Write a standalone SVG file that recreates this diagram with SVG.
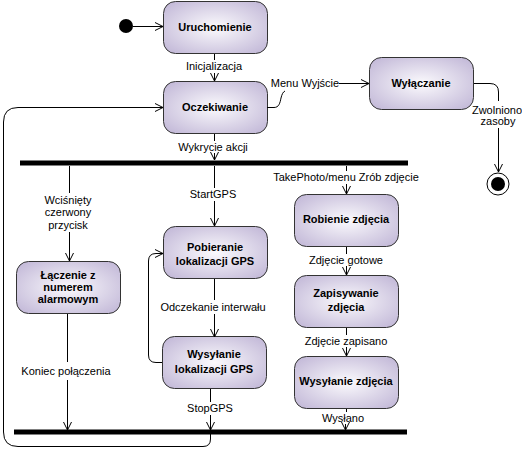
<svg xmlns="http://www.w3.org/2000/svg" width="522" height="451" viewBox="0 0 522 451">
<defs>
<radialGradient id="g" cx="50%" cy="50%" r="65%">
<stop offset="0" stop-color="#fbfafd"/>
<stop offset="1" stop-color="#c3b9d8"/>
</radialGradient>
<marker id="a" markerWidth="10" markerHeight="10" refX="9" refY="5" orient="auto" markerUnits="userSpaceOnUse">
<path d="M1,1 L9,5 L1,9" fill="none" stroke="#000" stroke-width="1"/>
</marker>
</defs>
<style>
.n rect{fill:url(#g);stroke:#333;stroke-width:1}
.n text{font-family:"Liberation Sans",Arial,sans-serif;font-size:11px;font-weight:bold;fill:#000;text-anchor:middle}
.c path,.c line{fill:none;stroke:#000;stroke-width:1}
.l{font-family:"Liberation Sans",Arial,sans-serif;font-size:11px;fill:#000;text-anchor:middle}
.bar{fill:#000}
</style>
<rect width="522" height="451" fill="#fff"/>
<g id="start"><circle cx="126" cy="26" r="7" fill="#000"/></g>
<g id="end"><circle cx="498" cy="184" r="11" fill="#fff" stroke="#000" stroke-width="1"/><circle cx="498" cy="184" r="7" fill="#000"/></g>
<g id="fork"><rect class="bar" x="20" y="160.5" width="388" height="5"/></g>
<g id="join"><rect class="bar" x="14" y="429.5" width="393" height="5"/></g>
<g id="uruchomienie" class="n"><rect x="163.5" y="1.5" width="104" height="52" rx="12"/><text x="215" y="31">Uruchomienie</text></g>
<g id="oczekiwanie" class="n"><rect x="163.5" y="81.5" width="104" height="52" rx="12"/><text x="215" y="111">Oczekiwanie</text></g>
<g id="wylaczanie" class="n"><rect x="369.5" y="57.5" width="104" height="52" rx="12"/><text x="421" y="87">Wyłączanie</text></g>
<g id="laczenie" class="n"><rect x="16.5" y="261.5" width="104" height="52" rx="12"/><text x="68" y="279">Łączenie z</text><text x="68" y="291">numerem</text><text x="68" y="303">alarmowym</text></g>
<g id="pobieranie" class="n"><rect x="163.5" y="226.5" width="104" height="52" rx="12"/><text x="215" y="251">Pobieranie</text><text x="215" y="265">lokalizacji GPS</text></g>
<g id="wysylanie-lok" class="n"><rect x="162.5" y="336.5" width="104" height="52" rx="12"/><text x="214" y="358">Wysyłanie</text><text x="214" y="373">lokalizacji GPS</text></g>
<g id="robienie" class="n"><rect x="294.5" y="194.5" width="104" height="52" rx="12"/><text x="346" y="223">Robienie zdjęcia</text></g>
<g id="zapisywanie" class="n"><rect x="294.5" y="275.5" width="104" height="52" rx="12"/><text x="346" y="297">Zapisywanie</text><text x="346" y="311">zdjęcia</text></g>
<g id="wysylanie-zdj" class="n"><rect x="294.5" y="356.5" width="104" height="52" rx="12"/><text x="346" y="385">Wysyłanie zdjęcia</text></g>
<g id="connectors" class="c">
<path d="M133,26.5 H163" marker-end="url(#a)"/>
<path d="M214.5,54 V60"/><path d="M214.5,73 V81" marker-end="url(#a)"/>
<text class="l" x="214" y="70">Inicjalizacja</text>
<path d="M214.5,134 V141"/><path d="M214.5,153 V160" marker-end="url(#a)"/>
<text class="l" x="213" y="151">Wykrycie akcji</text>
<path d="M267,107.5 H274 C279,107.5 280,103 281,98 C282,94 283,92 285,91"/>
<text class="l" x="305" y="87">Menu Wyjście</text>
<path d="M339,83.5 H369" marker-end="url(#a)"/>
<path d="M474,83.5 H490 Q498.5,83.5 498.5,92 V101"/>
<text class="l" x="497" y="114">Zwolniono</text>
<text class="l" x="498" y="125">zasoby</text>
<path d="M498.5,128 V172" marker-end="url(#a)"/>
<path d="M69.5,166 V193"/>
<text class="l" x="68" y="204">Wciśnięty</text>
<text class="l" x="68" y="216">czerwony</text>
<text class="l" x="68" y="229">przycisk</text>
<path d="M69.5,232 V261" marker-end="url(#a)"/>
<path d="M214.5,166 V188"/>
<text class="l" x="213" y="198">StartGPS</text>
<path d="M214.5,201 V226" marker-end="url(#a)"/>
<path d="M346.5,166 V171"/>
<text class="l" x="346" y="181">TakePhoto/menu Zrób zdjęcie</text>
<path d="M346.5,184 V194" marker-end="url(#a)"/>
<path d="M346.5,247 V254"/>
<text class="l" x="346" y="264">Zdjęcie gotowe</text>
<path d="M346.5,266 V275" marker-end="url(#a)"/>
<path d="M346.5,328 V335"/>
<text class="l" x="346" y="345">Zdjęcie zapisano</text>
<path d="M346.5,347 V356" marker-end="url(#a)"/>
<path d="M346.5,409 V412"/>
<text class="l" x="343" y="422">Wysłano</text>
<path d="M345.5,424 V430" marker-end="url(#a)"/>
<path d="M214.5,279 V300"/>
<text class="l" x="213" y="311">Odczekanie interwału</text>
<path d="M214.5,314 V337" marker-end="url(#a)"/>
<path d="M162,362.5 H156 Q148.5,362.5 148.5,355 V261 Q148.5,253.5 156,253.5 H163" marker-end="url(#a)"/>
<path d="M210.5,389 V402"/>
<text class="l" x="210" y="412">StopGPS</text>
<path d="M210.5,415 V430" marker-end="url(#a)"/>
<path d="M67.5,314 V362"/>
<text class="l" x="66" y="375">Koniec połączenia</text>
<path d="M67.5,380 V430" marker-end="url(#a)"/>
<path d="M210.5,434 V439 Q210.5,446.5 203,446.5 H18 Q3.5,446.5 3.5,432 V122 Q3.5,107.5 18,107.5 H163" marker-end="url(#a)"/>
</g>
</svg>
